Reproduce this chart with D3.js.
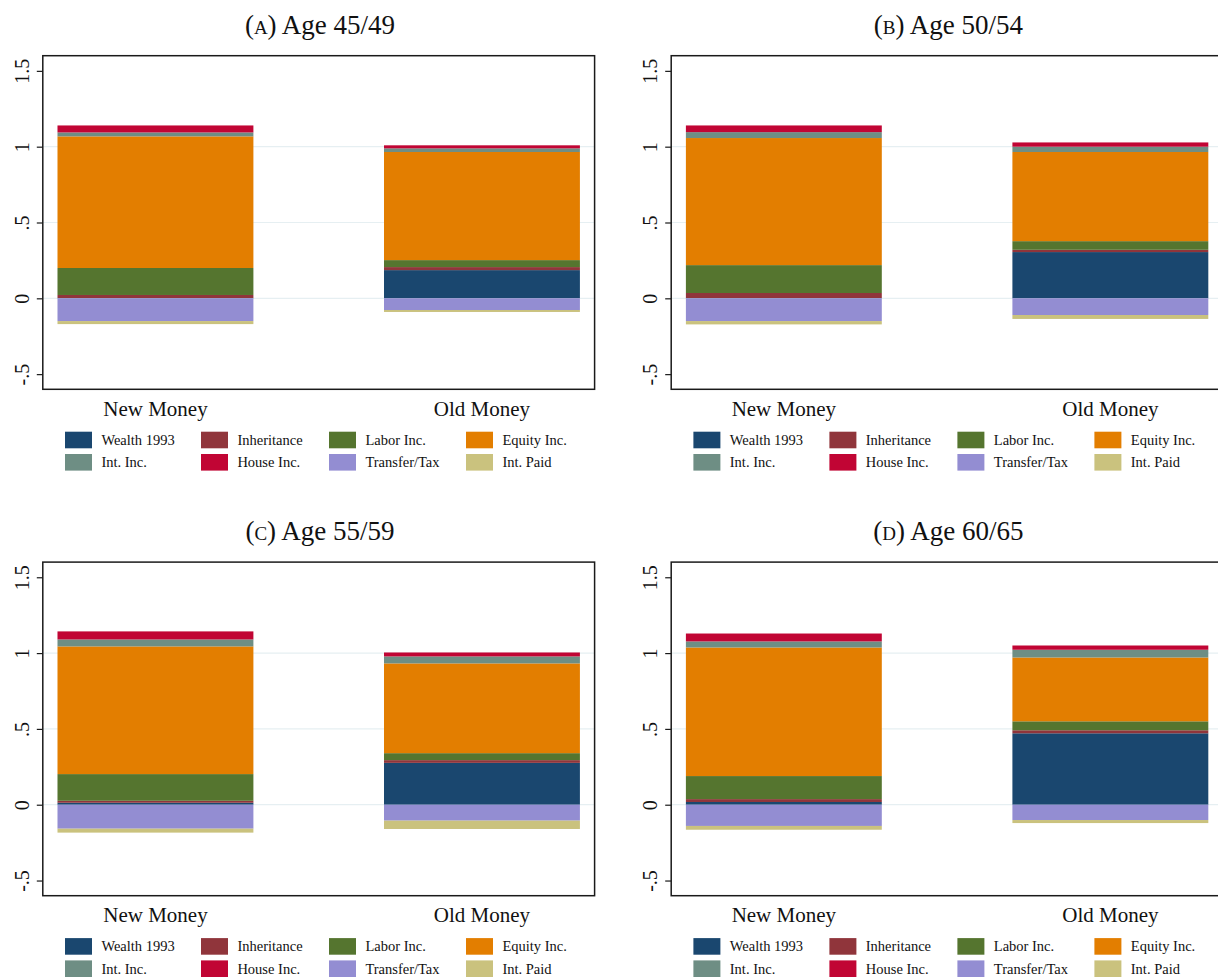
<!DOCTYPE html>
<html>
<head>
<meta charset="utf-8">
<script src="https://cdn.jsdelivr.net/npm/d3@7"></script>
<style>
  body { margin: 0; background: #fff; }
  svg { display: block; font-family: "Liberation Serif", "Times New Roman", serif; }
</style>
</head>
<body>
<div id="chart"></div>
<script>

// categories and series
var categories = ["New Money", "Old Money"];
var seriesNames = ["Wealth 1993", "Inheritance", "Labor Inc.", "Equity Inc.",
                   "Int. Inc.", "House Inc.", "Transfer/Tax", "Int. Paid"];
var seriesColors = ["#1a476f", "#90353b", "#55752f", "#e37e00",
                    "#6e8e84", "#c10534", "#938dd2", "#cac27e"];

// panel titles
var panelLetters = ["a", "b", "c", "d"];
var panelTitles = ["Age 45/49", "Age 50/54", "Age 55/59", "Age 60/65"];

// values, in seriesNames order
var age4549New = [0.002, 0.020, 0.178, 0.868, 0.026, 0.046, -0.150, -0.020];
var age4549Old = [0.186, 0.020, 0.046, 0.713, 0.024, 0.020, -0.077, -0.013];
var age5054New = [0.002, 0.033, 0.184, 0.838, 0.039, 0.044, -0.150, -0.022];
var age5054Old = [0.305, 0.015, 0.057, 0.588, 0.035, 0.028, -0.110, -0.026];
var age5559New = [0.013, 0.013, 0.176, 0.842, 0.046, 0.053, -0.158, -0.026];
var age5559Old = [0.276, 0.018, 0.046, 0.592, 0.046, 0.026, -0.105, -0.055];
var age6065New = [0.018, 0.019, 0.152, 0.848, 0.040, 0.052, -0.140, -0.025];
var age6065Old = [0.471, 0.020, 0.059, 0.421, 0.051, 0.028, -0.101, -0.020];

var yTicks = [-0.5, 0, 0.5, 1, 1.5];
var yTickLabels = ["-.5", "0", ".5", "1", "1.5"];
var gridTicks = [0, 0.5, 1];

var panelData = [
  [age4549New, age4549Old],
  [age5054New, age5054Old],
  [age5559New, age5559Old],
  [age6065New, age6065Old]
];

var width = 1218, height = 978;
var svg = d3.select("#chart").append("svg")
    .attr("width", width)
    .attr("height", height);

// where each panel sits
var offsets = [[0, 0], [628.4, 0], [0, 506.4], [628.4, 506.4]];
var frame = { left: 42.8, right: 594.6, top: 55.7, bottom: 389.3 };

var legendCols = [0, 136, 264, 401];

for (var p = 0; p < 4; p++) {

    var g = svg.append("g")
        .attr("transform", "translate(" + offsets[p][0] + "," + offsets[p][1] + ")");

    var x = d3.scaleBand()
        .domain(categories)
        .range([frame.left, frame.right])
        .paddingInner(0.4)
        .paddingOuter(0.045);

    var y = d3.scaleLinear()
        .domain([-0.6, 1.6])
        .range([frame.bottom, frame.top]);

    // build rows for d3.stack
    var rows = categories.map(function(c, ci) {
        var row = { category: c };
        seriesNames.forEach(function(s, si) { row[s] = panelData[p][ci][si]; });
        return row;
    });

    var stacked = d3.stack()
        .keys(seriesNames)
        .offset(d3.stackOffsetDiverging)(rows);

    // gridlines
    g.selectAll(".grid")
        .data(gridTicks)
        .enter().append("line")
        .attr("x1", frame.left).attr("x2", frame.right)
        .attr("y1", function(d) { return y(d); })
        .attr("y2", function(d) { return y(d); })
        .attr("stroke", "#e6eff2")
        .attr("stroke-width", 1.2);

    // bars
    g.selectAll(".layer")
        .data(stacked)
        .enter().append("g")
        .attr("fill", function(d, i) { return seriesColors[i]; })
        .selectAll("rect")
        .data(function(d) { return d; })
        .enter().append("rect")
        .attr("x", function(d) { return x(d.data.category); })
        .attr("width", x.bandwidth())
        .attr("y", function(d) { return y(Math.max(d[0], d[1])); })
        .attr("height", function(d) { return Math.abs(y(d[0]) - y(d[1])); });

    // frame
    g.append("rect")
        .attr("x", frame.left).attr("y", frame.top)
        .attr("width", frame.right - frame.left)
        .attr("height", frame.bottom - frame.top)
        .attr("fill", "none")
        .attr("stroke", "#1a1a1a")
        .attr("stroke-width", 1.5);

    // y axis ticks and rotated labels
    var yAxis = d3.axisLeft(y)
        .tickValues(yTicks)
        .tickSize(6)
        .tickFormat(function(d, i) { return yTickLabels[i]; });

    var ax = g.append("g")
        .attr("transform", "translate(" + frame.left + ",0)")
        .call(yAxis);
    ax.select(".domain").remove();
    ax.selectAll(".tick line").attr("stroke", "#1a1a1a").attr("stroke-width", 1.2);
    ax.selectAll(".tick text")
        .attr("font-family", "Liberation Serif")
        .attr("font-size", 20)
        .attr("fill", "#111")
        .attr("x", 0).attr("y", 0).attr("dy", null)
        .attr("text-anchor", "middle")
        .attr("transform", "translate(-13.8,0) rotate(-90)");

    // category labels
    g.selectAll(".cat")
        .data(categories)
        .enter().append("text")
        .attr("x", function(d) { return x(d) + x.bandwidth() / 2; })
        .attr("y", 415.7)
        .attr("text-anchor", "middle")
        .attr("font-size", 21)
        .attr("fill", "#111")
        .text(function(d) { return d; });

    // title
    var title = g.append("text")
        .attr("x", 320)
        .attr("y", 34)
        .attr("text-anchor", "middle")
        .attr("font-size", 27)
        .attr("fill", "#111");
    title.append("tspan").text("(");
    title.append("tspan").attr("font-variant", "small-caps").text(panelLetters[p]);
    title.append("tspan").text(") " + panelTitles[p]);

    // legend, 4 columns x 2 rows
    var leg = g.selectAll(".leg")
        .data(seriesNames)
        .enter().append("g")
        .attr("transform", function(d, i) {
            return "translate(" + (65 + legendCols[i % 4]) + "," + (431.7 + Math.floor(i / 4) * 22.3) + ")";
        });
    leg.append("rect")
        .attr("width", 27)
        .attr("height", 16.6)
        .attr("fill", function(d, i) { return seriesColors[i]; });
    leg.append("text")
        .attr("x", 36.4)
        .attr("y", 13.3)
        .attr("font-size", 14.5)
        .attr("fill", "#111")
        .text(function(d) { return d; });
}
</script>
</body>
</html>
